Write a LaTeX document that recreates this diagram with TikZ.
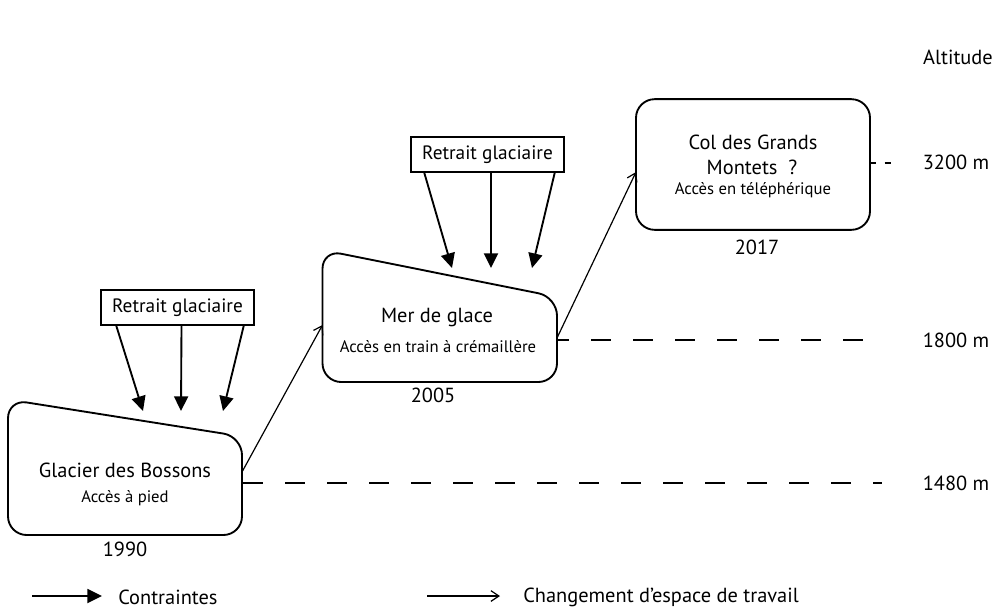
\documentclass[tikz,border=0pt]{standalone}
\usepackage{fontspec}
\setmainfont{PT Sans}
\usetikzlibrary{arrows.meta}
\begin{document}
\begin{tikzpicture}[x=0.75pt,y=-0.75pt,
  big/.style={font=\fontsize{15.3}{18}\selectfont, inner sep=0pt, anchor=center},
  small/.style={font=\fontsize{12.5}{15}\selectfont, inner sep=0pt, anchor=center},
  rbox/.style={draw, line width=1.4pt, rounded corners=14pt},
  retrait/.style={draw, line width=1.1pt, minimum width=114.75pt, minimum height=26.25pt,
     inner sep=0pt, font=\fontsize{14.5}{17}\selectfont},
  cons/.style={-{Triangle[length=11pt,width=10.5pt]}, line width=1.4pt},
  chg/.style={-{Straight Barb[length=6pt,width=8pt]}, line width=0.9pt},
  lvl/.style={line width=0.8pt, dash pattern=on 15pt off 16.5pt},
]
\useasboundingbox (0,0) rectangle (993,611);

% Box 1 : Glacier des Bossons
\draw[rbox] (8,399.5) -- (242,436.5) -- (242,535) -- (8,535) -- cycle;
\coordinate (b1out) at (242,472);
\coordinate (b1lvl) at (242,483);
\node[big] (t1) at (125,470) {Glacier des Bossons};
\node[small] (s1) at (125,498) {Accès à pied};
\node[big] (y1) at (125,549) {1990};

% Box 2 : Mer de glace
\draw[rbox] (322.5,250) -- (557,297) -- (557,382) -- (322.5,382) -- cycle;
\coordinate (b2in) at (322.5,325);
\coordinate (b2out) at (557,338);
\coordinate (b2lvl) at (557,340);
\node[big] (t2) at (437,318) {Mer de glace};
\node[small] (s2) at (438,347) {Accès en train à crémaillère};
\node[big] (y2) at (433,395) {2005};

% Box 3 : Col des Grands Montets
\node[rbox, minimum width=175.5pt, minimum height=98pt] (b3) at (753,164.5) {};
\coordinate (b3in) at (636,172);
\coordinate (b3lvl) at (870,163);
\node[big] (t3a) at (753,142) {Col des Grands};
\node[big] (t3b) at (752,167) {Montets\ \ ?};
\node[small] (s3) at (753,190) {Accès en téléphérique};
\node[big] (y3) at (757,247) {2017};

% Retrait glaciaire boxes and constraint arrows
\node[retrait] (r1) at (177.5,307.5) {Retrait glaciaire};
\coordinate (r1a) at (143,411);
\coordinate (r1b) at (181,411);
\coordinate (r1c) at (223,411);
\draw[cons] ([xshift=12pt]r1.south west) -- (r1a);
\draw[cons] ([xshift=3pt]r1.south) -- (r1b);
\draw[cons] ([xshift=-8.25pt]r1.south east) -- (r1c);

\node[retrait] (r2) at (487.5,154.5) {Retrait glaciaire};
\coordinate (r2a) at (452,268);
\coordinate (r2b) at (491,268);
\coordinate (r2c) at (532,268);
\draw[cons] ([xshift=10.5pt]r2.south west) -- (r2a);
\draw[cons] ([xshift=2.6pt]r2.south) -- (r2b);
\draw[cons] ([xshift=-7.5pt]r2.south east) -- (r2c);

% Change of workspace arrows
\draw[chg] (b1out) -- (b2in);
\draw[chg] (b2out) -- (b3in);

% Altitude levels
\coordinate (l1) at (882,483);
\coordinate (l2) at (882,340);
\coordinate (l3) at (896,163);
\draw[lvl, dash phase=-1pt] (b1lvl) -- (l1);
\draw[lvl, dash phase=6pt] (b2lvl) -- (l2);
\draw[line width=0.8pt, dash pattern=on 4.5pt off 6.5pt] (b3lvl) -- (l3);

\node[big] (alt) at (958,57) {Altitude};
\node[big] (a3) at (956,162) {3200 m};
\node[big] (a2) at (956,340) {1800 m};
\node[big] (a1) at (956,483) {1480 m};

% Legend
\coordinate (lg1s) at (32,596);
\coordinate (lg1e) at (102,596);
\draw[cons] (lg1s) -- (lg1e);
\node[big, anchor=west] (lc) at (118,597) {Contraintes};
\coordinate (lg2s) at (427,596);
\coordinate (lg2e) at (500,596);
\draw[chg] (lg2s) -- (lg2e);
\node[big, anchor=west] (lw) at (523,597) {Changement d’espace de travail};
\end{tikzpicture}
\end{document}
